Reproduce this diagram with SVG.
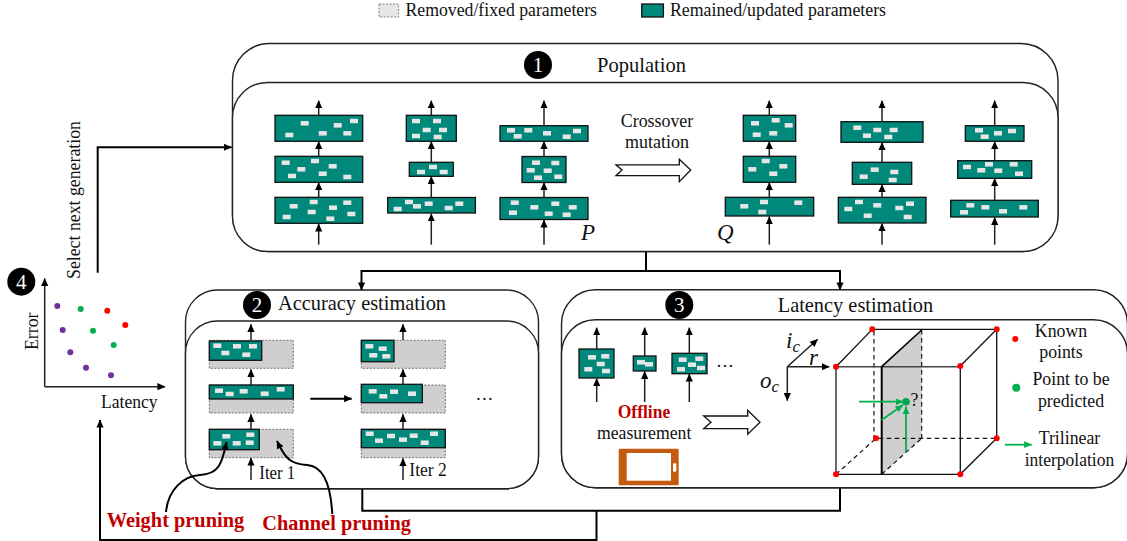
<svg xmlns="http://www.w3.org/2000/svg" width="1127" height="541" viewBox="0 0 1127 541">
<style>
text{font-family:"Liberation Serif","Times New Roman",serif;font-size:17.8px;fill:#111}
.c{text-anchor:middle}
.h{font-size:20.4px}
.l{font-size:18.3px}
.n{fill:#fff;font-size:21px;text-anchor:middle}
.red{fill:#c00000;font-weight:bold}
.big{font-size:20.2px}
.i{font-style:italic;font-size:23px}
.s{font-size:17px}
.frame{fill:#fff;stroke:#222;stroke-width:1.4}
.b{fill:#00897b;stroke:#111;stroke-width:1.3}
.g{fill:#d0cece;stroke:#555;stroke-width:.8;stroke-dasharray:2 1.5}
.a{fill:none;stroke:#222;stroke-width:1.5;marker-end:url(#h)}
.k{fill:none;stroke:#000;stroke-width:2}
.ka{fill:none;stroke:#000;stroke-width:2;marker-end:url(#h)}
.e{fill:none;stroke:#111;stroke-width:1.3}
.d{fill:none;stroke:#111;stroke-width:1.2;stroke-dasharray:4.5 3.5}
.ga{fill:none;stroke:#00b050;stroke-width:1.8;marker-end:url(#gh)}
.hollow{fill:#fff;stroke:#111;stroke-width:1.3}
</style>
<defs>
<marker id="h" markerUnits="userSpaceOnUse" markerWidth="8" markerHeight="8" viewBox="0 0 8 8" refX="7.6" refY="4" orient="auto"><path d="M0,.4 L8,4 L0,7.6 Z" fill="#000"/></marker>
<marker id="gh" markerUnits="userSpaceOnUse" markerWidth="8" markerHeight="8" viewBox="0 0 8 8" refX="7.6" refY="4" orient="auto"><path d="M0,.6 L8,4 L0,7.4 Z" fill="#00b050"/></marker>
<rect id="w" x="-4" y="-2.25" width="8" height="4.5" fill="#e7e6e6"/>
</defs>

<g id="legend">
<rect x="379" y="4" width="19.6" height="13" fill="#e7e6e6" stroke="#666" stroke-width=".8" stroke-dasharray="2 1.5"/>
<text class="l" x="405.5" y="15.5" textLength="191.5" lengthAdjust="spacingAndGlyphs">Removed/fixed parameters</text>
<rect x="641.7" y="4" width="21.7" height="13" class="b"/>
<text class="l" x="670" y="15.5" textLength="216" lengthAdjust="spacingAndGlyphs">Remained/updated parameters</text>
</g>

<g id="population">
<rect class="frame" x="232.5" y="43.5" width="825.5" height="208" rx="37"/>
<rect class="frame" x="232.5" y="82.5" width="825.5" height="169" rx="35"/>
<circle cx="538" cy="65" r="14"/><text class="n" x="538" y="72">1</text>
<text class="h" x="597" y="71.5" textLength="89" lengthAdjust="spacingAndGlyphs">Population</text>
</g>

<g id="net-p1">
<rect class="b" x="275" y="115.3" width="87.7" height="26"/><rect class="b" x="275" y="156.3" width="87.7" height="26"/><rect class="b" x="275" y="197.3" width="87.7" height="26"/>
<use href="#w" x="304.7" y="123.3"/><use href="#w" x="337.7" y="125.3"/><use href="#w" x="354" y="121"/><use href="#w" x="289.3" y="135"/><use href="#w" x="322.7" y="133.3"/><use href="#w" x="347.3" y="133.3"/>
<use href="#w" x="285.7" y="162.7"/><use href="#w" x="301.3" y="169.3"/><use href="#w" x="292" y="176"/><use href="#w" x="315" y="161"/><use href="#w" x="322.7" y="173.7"/><use href="#w" x="332.7" y="166.3"/><use href="#w" x="347.3" y="177"/>
<use href="#w" x="293.7" y="206.3"/><use href="#w" x="313.7" y="202"/><use href="#w" x="311.7" y="212"/><use href="#w" x="286.7" y="217"/><use href="#w" x="333" y="207.7"/><use href="#w" x="330.3" y="218.7"/><use href="#w" x="347.3" y="202.7"/><use href="#w" x="351.3" y="214"/>
</g>
<g id="net-p2">
<rect class="b" x="406.3" y="115.3" width="50" height="26"/><rect class="b" x="409.3" y="162.3" width="44" height="14"/><rect class="b" x="387.7" y="197.5" width="87.7" height="15.5"/>
<use href="#w" x="416" y="121"/><use href="#w" x="437" y="121"/><use href="#w" x="426.7" y="130"/><use href="#w" x="443" y="130"/><use href="#w" x="416" y="136"/><use href="#w" x="437.7" y="137"/>
<use href="#w" x="421" y="172"/><use href="#w" x="433" y="167"/><use href="#w" x="443.7" y="172"/>
<use href="#w" x="397.7" y="209"/><use href="#w" x="409" y="202"/><use href="#w" x="417" y="206.3"/><use href="#w" x="428.7" y="203.7"/><use href="#w" x="448.7" y="208"/><use href="#w" x="459.3" y="203.7"/>
</g>
<g id="net-p3">
<rect class="b" x="500" y="125.7" width="88" height="15.6"/><rect class="b" x="522" y="156.5" width="44" height="26"/><rect class="b" x="500" y="197.5" width="88" height="22"/>
<use href="#w" x="511" y="130.3"/><use href="#w" x="517.7" y="136.3"/><use href="#w" x="528.3" y="130.3"/><use href="#w" x="547" y="133.3"/><use href="#w" x="566.7" y="136.7"/><use href="#w" x="577" y="131"/>
<use href="#w" x="536" y="162.7"/><use href="#w" x="555.3" y="163"/><use href="#w" x="530.7" y="170.3"/><use href="#w" x="547.7" y="170.7"/><use href="#w" x="538" y="177.7"/><use href="#w" x="558.3" y="176.7"/>
<use href="#w" x="514.7" y="202.7"/><use href="#w" x="534.3" y="207.3"/><use href="#w" x="555.3" y="203.7"/><use href="#w" x="572.7" y="207.3"/><use href="#w" x="513" y="212.7"/><use href="#w" x="548.7" y="213.7"/><use href="#w" x="566.7" y="214.7"/>
</g>
<g id="net-q1">
<rect class="b" x="743.3" y="115.3" width="52.4" height="26"/><rect class="b" x="743.3" y="156.3" width="52.4" height="26"/><rect class="b" x="725.3" y="197.3" width="88.4" height="18.7"/>
<use href="#w" x="755" y="123.3"/><use href="#w" x="775.7" y="120.3"/><use href="#w" x="788.7" y="125.3"/><use href="#w" x="756.7" y="134.7"/><use href="#w" x="773.3" y="133.3"/>
<use href="#w" x="765.7" y="161"/><use href="#w" x="752.3" y="169.3"/><use href="#w" x="783.3" y="166.3"/><use href="#w" x="773.3" y="173.7"/>
<use href="#w" x="744.3" y="206.3"/><use href="#w" x="764" y="202"/><use href="#w" x="798.3" y="202.7"/><use href="#w" x="762.3" y="212"/>
</g>
<g id="net-q2">
<rect class="b" x="841" y="121.7" width="82" height="20.6"/><rect class="b" x="852.3" y="162.3" width="59.4" height="22"/><rect class="b" x="838.3" y="197.3" width="87.7" height="25.7"/>
<use href="#w" x="857.3" y="127.7"/><use href="#w" x="867" y="135.7"/><use href="#w" x="877.3" y="130"/><use href="#w" x="888.3" y="137"/><use href="#w" x="893.7" y="130"/>
<use href="#w" x="863.7" y="176.7"/><use href="#w" x="874.7" y="169.7"/><use href="#w" x="894.3" y="172"/><use href="#w" x="892.7" y="180"/>
<use href="#w" x="848.3" y="209"/><use href="#w" x="859" y="202"/><use href="#w" x="877.3" y="205.3"/><use href="#w" x="867.7" y="215.7"/><use href="#w" x="899.3" y="208"/><use href="#w" x="910" y="203.7"/><use href="#w" x="907.7" y="217"/>
</g>
<g id="net-q3">
<rect class="b" x="965.3" y="125.7" width="58.7" height="15.6"/><rect class="b" x="957.7" y="160.7" width="74" height="17.6"/><rect class="b" x="950.7" y="200.3" width="87.6" height="16.7"/>
<use href="#w" x="979" y="130.3"/><use href="#w" x="984.7" y="136.7"/><use href="#w" x="998" y="133.3"/><use href="#w" x="1012" y="131"/>
<use href="#w" x="967" y="167"/><use href="#w" x="981.3" y="170.3"/><use href="#w" x="989" y="164.3"/><use href="#w" x="998.3" y="170.7"/><use href="#w" x="1013.7" y="164.3"/><use href="#w" x="1019" y="173.7"/>
<use href="#w" x="970.3" y="205.3"/><use href="#w" x="964" y="212.3"/><use href="#w" x="985.3" y="207.3"/><use href="#w" x="1003" y="211.3"/><use href="#w" x="1023.3" y="207.3"/>
</g>
<g id="crossover">
<text class="c" x="657" y="127" textLength="72.5" lengthAdjust="spacingAndGlyphs">Crossover</text>
<text class="c" x="657" y="148" textLength="64" lengthAdjust="spacingAndGlyphs">mutation</text>
<path class="hollow" d="M616,164.8 H679.3 V159.3 L690.7,170 L679.3,181.7 V175.7 H616 L622,170 Z"/>
<text class="i" x="581" y="240">P</text>
<text class="i" x="717" y="240">Q</text>
</g>

<g id="pareto">
<circle cx="21.3" cy="281.7" r="14"/><text class="n" x="21.3" y="288.7">4</text>
<text transform="translate(38,350) rotate(-90)" textLength="37.5" lengthAdjust="spacingAndGlyphs">Error</text>
<text x="101" y="407.7" textLength="56.5" lengthAdjust="spacingAndGlyphs">Latency</text>
<text transform="translate(80,279) rotate(-90)" textLength="158" lengthAdjust="spacingAndGlyphs">Select next generation</text>
<path class="a" d="M44.7,386.7 V278.5"/><path class="a" d="M44.7,386.7 H165"/>
<g fill="#7030a0"><circle cx="57.3" cy="306" r="3"/><circle cx="62.7" cy="330" r="3"/><circle cx="70.3" cy="352.3" r="3"/><circle cx="86" cy="367.7" r="3"/><circle cx="111" cy="375.3" r="3"/></g>
<g fill="#00b050"><circle cx="80.7" cy="309" r="3"/><circle cx="93" cy="330.7" r="3"/><circle cx="113.7" cy="345" r="3"/></g>
<g fill="#f00"><circle cx="107.3" cy="310.7" r="3"/><circle cx="125.3" cy="325" r="3"/></g>
</g>

<g id="accuracy">
<rect class="frame" x="185.5" y="290" width="353" height="198.7" rx="32"/>
<rect class="frame" x="185.5" y="321" width="353" height="167.7" rx="32"/>
<circle cx="257" cy="305" r="14"/><text class="n" x="257" y="312">2</text>
<text class="h" x="278" y="310" textLength="168" lengthAdjust="spacingAndGlyphs">Accuracy estimation</text>
<rect class="g" x="209.3" y="340.3" width="84" height="28"/><rect class="g" x="209.3" y="385" width="84" height="28"/><rect class="g" x="209.3" y="429.3" width="84" height="28.4"/>
<rect class="b" x="209.3" y="341" width="52.4" height="19.3"/><rect class="b" x="209.3" y="385" width="84" height="14"/><rect class="b" x="209.3" y="429.3" width="50" height="20.4"/>
<use href="#w" x="217.3" y="345.7"/><use href="#w" x="237" y="346.3"/><use href="#w" x="253" y="346.3"/><use href="#w" x="225.3" y="353"/><use href="#w" x="246.3" y="354.7"/>
<use href="#w" x="219" y="390.7"/><use href="#w" x="229.7" y="394"/><use href="#w" x="243.7" y="391.3"/><use href="#w" x="264.7" y="393.7"/><use href="#w" x="280.7" y="389.3"/>
<use href="#w" x="226.3" y="436.3"/><use href="#w" x="250.3" y="434.7"/><use href="#w" x="217.3" y="443.3"/><use href="#w" x="236.7" y="443.3"/><use href="#w" x="249.7" y="442.7"/>
<rect class="g" x="361.3" y="340.3" width="84" height="28"/><rect class="g" x="361.3" y="385" width="84" height="28"/><rect class="g" x="361.3" y="429.3" width="84" height="28.4"/>
<rect class="b" x="361.3" y="340.3" width="32.7" height="21.4"/><rect class="b" x="361.3" y="384.3" width="61" height="18.4"/><rect class="b" x="361.3" y="429.3" width="84" height="18.4"/>
<use href="#w" x="369.3" y="346.3"/><use href="#w" x="382.7" y="348.7"/><use href="#w" x="373.3" y="355.3"/><use href="#w" x="386.3" y="356.3"/>
<use href="#w" x="372.7" y="391.3"/><use href="#w" x="383.3" y="396.3"/><use href="#w" x="394" y="391.7"/><use href="#w" x="412" y="393.7"/>
<use href="#w" x="369.7" y="433.7"/><use href="#w" x="379" y="440.7"/><use href="#w" x="391" y="436"/><use href="#w" x="403" y="439.7"/><use href="#w" x="413.7" y="435.7"/><use href="#w" x="424.7" y="442.7"/><use href="#w" x="434" y="433.7"/>
<text x="484.5" y="400" class="c">…</text>
<text x="259.3" y="479" textLength="36" lengthAdjust="spacingAndGlyphs">Iter 1</text>
<text x="409.3" y="476" textLength="37.5" lengthAdjust="spacingAndGlyphs">Iter 2</text>
<text class="red big" x="106.7" y="526.7" textLength="137.5" lengthAdjust="spacingAndGlyphs">Weight pruning</text>
<text class="red big" x="262.3" y="529.5" textLength="148.7" lengthAdjust="spacingAndGlyphs">Channel pruning</text>
</g>

<g id="latency">
<rect class="frame" x="561.5" y="289.7" width="566" height="198" rx="34"/>
<rect class="frame" x="561.5" y="319.7" width="566" height="168" rx="34"/>
<circle cx="679.3" cy="305" r="14"/><text class="n" x="679.3" y="312">3</text>
<text class="h" x="777.7" y="311.5" textLength="155.5" lengthAdjust="spacingAndGlyphs">Latency estimation</text>
<rect class="b" x="579" y="349" width="35" height="29"/><rect class="b" x="633.3" y="356" width="22.7" height="15"/><rect class="b" x="672" y="353.3" width="35" height="20.4"/>
<use href="#w" x="592" y="357.3"/><use href="#w" x="605.3" y="356.3"/><use href="#w" x="600.7" y="364"/><use href="#w" x="588.3" y="369.3"/><use href="#w" x="606" y="371"/>
<use href="#w" x="641" y="362.3"/><use href="#w" x="649" y="364.3"/>
<use href="#w" x="682.7" y="359.7"/><use href="#w" x="699.3" y="358.7"/><use href="#w" x="692" y="364.7"/><use href="#w" x="681" y="369.3"/><use href="#w" x="701" y="368"/>
<text class="c" x="725" y="367">…</text>
<text class="red" x="617.7" y="417.7" textLength="52.6" lengthAdjust="spacingAndGlyphs">Offline</text>
<text x="597" y="439.3" textLength="94.3" lengthAdjust="spacingAndGlyphs">measurement</text>
<rect x="618.7" y="448.7" width="60" height="36.6" rx="1" fill="#c55a11"/><rect x="626.7" y="453" width="44.3" height="27.7" fill="#fff"/><rect x="673" y="463.3" width="3.3" height="8.4" rx="1" fill="#fff"/>
<path class="hollow" d="M703.7,416 H747.7 V410.3 L760,422.3 L747.7,434.3 V428.7 H703.7 L711,422.3 Z"/>
<text x="786" y="348" class="i">i<tspan dy="4" class="s">c</tspan></text>
<text x="760" y="388.3" class="i">o<tspan dy="4" class="s">c</tspan></text>
<text x="809" y="365" class="i">r</text>
<path class="a" d="M787.3,366.7 H829.3"/><path class="a" d="M787.3,366.7 L817.7,339.3"/><path class="a" d="M787.3,366.7 V400.7"/>
<path d="M881.7,366.7 L921.7,330 V438.3 L881.7,474.3 Z" fill="#d0cece"/>
<path class="d" d="M874,331 V438.3 H996.7"/><path class="d" d="M921.7,330 V438.3"/><path class="d" d="M836,474.3 L876,438.3"/><path class="d" d="M881.7,474.3 L921.7,438.3"/>
<path class="e" d="M836,366.7 L872.3,329.3 H996.7 V438.3 L960.3,474.3 H836"/>
<path class="e" d="M960.3,366 L996.7,329.3"/><path class="e" d="M960.3,366 V474.3"/>
<path d="M836,366.7 H960.3 M836,366.7 V474.3" fill="none" stroke="#444" stroke-width="1.6"/>
<path d="M881.7,366.7 L921.7,330" fill="none" stroke="#000" stroke-width="1.6"/>
<path d="M881.7,366.7 V474.3" fill="none" stroke="#000" stroke-width="2"/>
<g fill="#f00"><circle cx="836" cy="366.7" r="3"/><circle cx="960.3" cy="366" r="3"/><circle cx="836" cy="474.3" r="3"/><circle cx="960.3" cy="474.3" r="3"/><circle cx="872.3" cy="329.3" r="3"/><circle cx="996.7" cy="329.3" r="3"/><circle cx="996.7" cy="438.3" r="3"/><circle cx="876" cy="438.3" r="3"/><circle cx="1015.3" cy="339" r="3"/></g>
<circle cx="906" cy="401.7" r="3.8" fill="#00a650"/><circle cx="1016.3" cy="387.7" r="4" fill="#00b050"/>
<path class="ga" d="M859,401.7 H903.3"/><path class="ga" d="M881.7,420 L903,405"/><path class="ga" d="M906,452.7 V406.5"/><path class="ga" d="M1005,444.7 H1031.7"/>
<text x="910.5" y="405.5">?</text>
<text class="c" x="1061" y="336.7">Known</text><text class="c" x="1061" y="358.3">points</text>
<text class="c" x="1071" y="385">Point to be</text><text class="c" x="1071" y="406.7">predicted</text>
<text class="c" x="1069.5" y="444">Trilinear</text><text class="c" x="1069.5" y="465.7" textLength="89.5" lengthAdjust="spacingAndGlyphs">interpolation</text>
</g>

<g id="connectors">
<path class="a" d="M318.7,244.7 V224"/><path class="a" d="M318.7,197 V182.5"/><path class="a" d="M318.7,156 V141.5"/><path class="a" d="M318.7,115 V100.7"/>
<path class="a" d="M431.3,244.7 V213.7"/><path class="a" d="M431.3,197.5 V176.5"/><path class="a" d="M431.3,162 V141.5"/><path class="a" d="M431.3,115 V100.7"/>
<path class="a" d="M544,244.7 V220"/><path class="a" d="M544,197.5 V182.5"/><path class="a" d="M544,156.5 V141.5"/><path class="a" d="M544,125.5 V100.7"/>
<path class="a" d="M769.3,244.7 V216.7"/><path class="a" d="M769.3,197.3 V182.5"/><path class="a" d="M769.3,156.3 V141.5"/><path class="a" d="M769.3,115.3 V100.7"/>
<path class="a" d="M882,244.7 V223.5"/><path class="a" d="M882,197.3 V184.5"/><path class="a" d="M882,162.3 V142.5"/><path class="a" d="M882,121.7 V100.7"/>
<path class="a" d="M994.7,244.7 V217.5"/><path class="a" d="M994.7,200.3 V178.5"/><path class="a" d="M994.7,160.7 V141.5"/><path class="a" d="M994.7,125.7 V100.7"/>
<path class="a" d="M251,340 V324.3"/><path class="a" d="M251,385 V369.5"/><path class="a" d="M251,429 V414.3"/><path class="a" d="M251,480 V458"/>
<path class="a" d="M403,340 V324.3"/><path class="a" d="M403,385 V369.5"/><path class="a" d="M403,429 V414.3"/><path class="a" d="M403,480 V458.3"/>
<path class="ka" d="M310.3,398.7 H351.7"/>
<path class="a" d="M596.7,349 V327.7"/><path class="a" d="M644.7,356 V327.7"/><path class="a" d="M689.3,353.3 V327.7"/>
<path class="a" d="M596.7,402 V378.5"/><path class="a" d="M644.7,402 V371.3"/><path class="a" d="M689.3,402 V374"/>
<path class="ka" d="M166,512 C168,490 183,476 200,475 C220,474 222,462 226.7,442"/>
<path class="ka" d="M332.3,514 C331,490 325,466 307,465 C290,464 285,458 277,441"/>
<path class="k" d="M646,252 V271"/>
<path class="ka" d="M361.5,271 H840 V290"/>
<path class="ka" d="M646,271 H361.5 V290"/>
<path class="k" d="M362.3,489 V510.7 H840 V488"/>
<path class="ka" d="M596.5,510.7 V540 H100 V420"/>
<path class="ka" d="M97.7,272.7 V147.3 H231.5"/>
</g>
</svg>
